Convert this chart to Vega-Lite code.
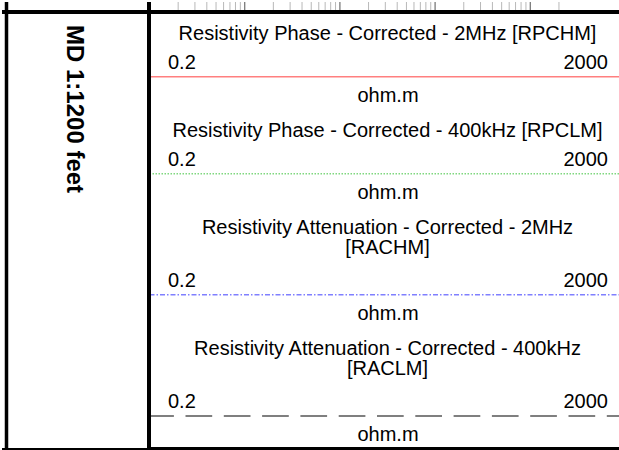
{
  "$schema": "https://vega.github.io/schema/vega-lite/v6.json",
  "padding": 0,
  "background": "#ffffff",
  "spacing": 0,
  "bounds": "flush",
  "config": {
    "view": {"stroke": null},
    "font": "Liberation Sans",
    "title": {"font": "Liberation Sans", "fontSize": 20, "fontWeight": "normal", "color": "#000000", "anchor": "middle", "frame": "group", "baseline": "alphabetic", "offset": 8.5, "lineHeight": 20, "dx": 1.5},
    "axis": {"labelFont": "Liberation Sans", "titleFont": "Liberation Sans"}
  },
  "datasets": {
    "curves": [
      {"curve": "RPCHM", "left": 0.2, "right": 2000, "unit": "ohm.m"},
      {"curve": "RPCLM", "left": 0.2, "right": 2000, "unit": "ohm.m"},
      {"curve": "RACHM", "left": 0.2, "right": 2000, "unit": "ohm.m"},
      {"curve": "RACLM", "left": 0.2, "right": 2000, "unit": "ohm.m"}
    ],
    "grid": [
      {"value": 0.2, "kind": "minor"}, {"value": 0.3, "kind": "minor"}, {"value": 0.4, "kind": "minor"}, {"value": 0.5, "kind": "minor"},
      {"value": 0.6, "kind": "minor"}, {"value": 0.7, "kind": "minor"}, {"value": 0.8, "kind": "minor"}, {"value": 0.9, "kind": "minor"},
      {"value": 1, "kind": "major"},
      {"value": 2, "kind": "minor"}, {"value": 3, "kind": "minor"}, {"value": 4, "kind": "minor"}, {"value": 5, "kind": "minor"},
      {"value": 6, "kind": "minor"}, {"value": 7, "kind": "minor"}, {"value": 8, "kind": "minor"}, {"value": 9, "kind": "minor"},
      {"value": 10, "kind": "major"},
      {"value": 20, "kind": "minor"}, {"value": 30, "kind": "minor"}, {"value": 40, "kind": "minor"}, {"value": 50, "kind": "minor"},
      {"value": 60, "kind": "minor"}, {"value": 70, "kind": "minor"}, {"value": 80, "kind": "minor"}, {"value": 90, "kind": "minor"},
      {"value": 100, "kind": "major"},
      {"value": 200, "kind": "minor"}, {"value": 300, "kind": "minor"}, {"value": 400, "kind": "minor"}, {"value": 500, "kind": "minor"},
      {"value": 600, "kind": "minor"}, {"value": 700, "kind": "minor"}, {"value": 800, "kind": "minor"}, {"value": 900, "kind": "minor"},
      {"value": 1000, "kind": "major"},
      {"value": 2000, "kind": "minor"}
    ]
  },
  "hconcat": [
    {
      "width": 149,
      "height": 450,
      "data": {"values": [{"label": "MD 1:1200 feet"}]},
      "layer": [
        {"mark": {"type": "rule", "color": "#000000", "strokeWidth": 3.5},
         "encoding": {"x": {"datum": 0, "type": "quantitative", "scale": {"domain": [0, 1], "range": [4.5, 147]}, "axis": null}}},
        {"mark": {"type": "rule", "color": "#000000", "strokeWidth": 4},
         "encoding": {"x": {"datum": 1, "type": "quantitative", "axis": null}}},
        {"mark": {"type": "rule", "color": "#000000", "strokeWidth": 4},
         "encoding": {"y": {"datum": 0, "type": "quantitative", "scale": {"domain": [0, 1], "range": [10, 448]}, "axis": null}}},
        {"mark": {"type": "rule", "color": "#000000", "strokeWidth": 4},
         "encoding": {"y": {"datum": 1, "type": "quantitative", "axis": null}}},
        {"mark": {"type": "text", "angle": 90, "align": "left", "baseline": "middle", "font": "Liberation Sans", "fontSize": 24, "fontWeight": "bold", "color": "#000000", "dx": 13, "dy": 3.5},
         "encoding": {"text": {"field": "label"}, "x": {"datum": 0.5, "type": "quantitative"}, "y": {"datum": 0, "type": "quantitative"}}}
      ]
    },
    {
      "spacing": 9.5,
      "vconcat": [
        {
          "width": 470,
          "height": 10,
          "layer": [
            {"data": {"name": "grid"},
             "transform": [{"filter": {"field": "kind", "equal": "minor"}}],
             "mark": {"type": "rule", "clip": true, "color": "#b8b8b8", "strokeWidth": 1},
             "encoding": {"x": {"field": "value", "type": "quantitative", "scale": {"type": "log", "domain": [0.2, 2000], "range": [-1.5, 474.5]}, "axis": null}}},
            {"data": {"name": "grid"},
             "transform": [{"filter": {"field": "kind", "equal": "major"}}],
             "mark": {"type": "rule", "clip": true, "color": "#7a7a7a", "strokeWidth": 1.3},
             "encoding": {"x": {"field": "value", "type": "quantitative", "axis": null}}},
            {"data": {"values": [{}]},
             "mark": {"type": "rule", "color": "#000000", "strokeWidth": 4},
             "encoding": {"y": {"datum": 0, "type": "quantitative", "scale": {"domain": [0, 1]}, "axis": null}}}
          ]
        },
        {
          "spacing": 15,
          "vconcat": [
            {
              "width": 470, "height": 1,
              "title": {"text": "Resistivity Phase - Corrected - 2MHz [RPCHM]"},
              "data": {"name": "curves"},
              "transform": [{"filter": {"field": "curve", "equal": "RPCHM"}}],
              "mark": {"type": "rule", "clip": true, "strokeWidth": 2},
              "encoding": {
                "x": {"field": "left", "type": "quantitative", "scale": {"type": "log", "domain": [0.2, 2000], "range": [-1.5, 474.5]},
                      "axis": {"orient": "top", "values": [0.2, 2000], "format": "~g", "labelFlush": true, "labelFlushOffset": -18, "ticks": false, "tickSize": 0, "domain": false, "grid": false, "labelFontSize": 20, "labelColor": "#000000", "labelPadding": 4, "title": "ohm.m", "titleFontSize": 20, "titleFontWeight": "normal", "titleColor": "#000000", "titleY": 25, "titleBaseline": "alphabetic", "titlePadding": 0}},
                "x2": {"field": "right"},
                "y": {"datum": 1, "type": "quantitative", "scale": {"domain": [0, 1]}, "axis": null},
                "color": {"field": "curve", "type": "nominal", "scale": {"domain": ["RPCHM", "RPCLM", "RACHM", "RACLM"], "range": ["#ff0000", "#00b000", "#0000ff", "#000000"]}, "legend": null},
                "strokeDash": {"field": "curve", "type": "nominal", "scale": {"domain": ["RPCHM", "RPCLM", "RACHM", "RACLM"], "range": [[1, 0], [1.5, 1.5], [5, 2, 1.5, 2], [26.7, 11.6]]}, "legend": null}
              }
            },
            {
              "width": 470, "height": 1,
              "title": {"text": "Resistivity Phase - Corrected - 400kHz [RPCLM]"},
              "data": {"name": "curves"},
              "transform": [{"filter": {"field": "curve", "equal": "RPCLM"}}],
              "mark": {"type": "rule", "clip": true, "strokeWidth": 1.8},
              "encoding": {
                "x": {"field": "left", "type": "quantitative", "scale": {"type": "log", "domain": [0.2, 2000], "range": [-1.5, 474.5]},
                      "axis": {"orient": "top", "values": [0.2, 2000], "format": "~g", "labelFlush": true, "labelFlushOffset": -18, "ticks": false, "tickSize": 0, "domain": false, "grid": false, "labelFontSize": 20, "labelColor": "#000000", "labelPadding": 4, "title": "ohm.m", "titleFontSize": 20, "titleFontWeight": "normal", "titleColor": "#000000", "titleY": 25, "titleBaseline": "alphabetic", "titlePadding": 0}},
                "x2": {"field": "right"},
                "y": {"datum": 1, "type": "quantitative", "scale": {"domain": [0, 1]}, "axis": null},
                "color": {"field": "curve", "type": "nominal", "scale": {"domain": ["RPCHM", "RPCLM", "RACHM", "RACLM"], "range": ["#ff0000", "#00b000", "#0000ff", "#000000"]}, "legend": null},
                "strokeDash": {"field": "curve", "type": "nominal", "scale": {"domain": ["RPCHM", "RPCLM", "RACHM", "RACLM"], "range": [[1, 0], [1.5, 1.5], [5, 2, 1.5, 2], [26.7, 11.6]]}, "legend": null}
              }
            },
            {
              "width": 470, "height": 1,
              "title": {"text": ["Resistivity Attenuation - Corrected - 2MHz", "[RACHM]"], "offset": 13},
              "data": {"name": "curves"},
              "transform": [{"filter": {"field": "curve", "equal": "RACHM"}}],
              "mark": {"type": "rule", "clip": true, "strokeWidth": 2},
              "encoding": {
                "x": {"field": "left", "type": "quantitative", "scale": {"type": "log", "domain": [0.2, 2000], "range": [-1.5, 474.5]},
                      "axis": {"orient": "top", "values": [0.2, 2000], "format": "~g", "labelFlush": true, "labelFlushOffset": -18, "ticks": false, "tickSize": 0, "domain": false, "grid": false, "labelFontSize": 20, "labelColor": "#000000", "labelPadding": 4, "title": "ohm.m", "titleFontSize": 20, "titleFontWeight": "normal", "titleColor": "#000000", "titleY": 25, "titleBaseline": "alphabetic", "titlePadding": 0}},
                "x2": {"field": "right"},
                "y": {"datum": 1, "type": "quantitative", "scale": {"domain": [0, 1]}, "axis": null},
                "color": {"field": "curve", "type": "nominal", "scale": {"domain": ["RPCHM", "RPCLM", "RACHM", "RACLM"], "range": ["#ff0000", "#00b000", "#0000ff", "#000000"]}, "legend": null},
                "strokeDash": {"field": "curve", "type": "nominal", "scale": {"domain": ["RPCHM", "RPCLM", "RACHM", "RACLM"], "range": [[1, 0], [1.5, 1.5], [5, 2, 1.5, 2], [26.7, 11.6]]}, "legend": null}
              }
            },
            {
              "width": 470, "height": 33.5,
              "title": {"text": ["Resistivity Attenuation - Corrected - 400kHz", "[RACLM]"], "offset": 13},
              "layer": [
                {
                  "data": {"name": "curves"},
                  "transform": [{"filter": {"field": "curve", "equal": "RACLM"}}],
                  "mark": {"type": "rule", "clip": true, "strokeWidth": 1.8, "strokeDashOffset": 2.3},
                  "encoding": {
                    "x": {"field": "left", "type": "quantitative", "scale": {"type": "log", "domain": [0.2, 2000], "range": [-1.5, 474.5]},
                          "axis": {"orient": "top", "values": [0.2, 2000], "format": "~g", "labelFlush": true, "labelFlushOffset": -18, "ticks": false, "tickSize": 0, "domain": false, "grid": false, "labelFontSize": 20, "labelColor": "#000000", "labelPadding": 4, "title": "ohm.m", "titleFontSize": 20, "titleFontWeight": "normal", "titleColor": "#000000", "titleY": 25, "titleBaseline": "alphabetic", "titlePadding": 0}},
                    "x2": {"field": "right"},
                    "y": {"datum": 1, "type": "quantitative", "scale": {"domain": [0, 1]}, "axis": null},
                    "color": {"field": "curve", "type": "nominal", "scale": {"domain": ["RPCHM", "RPCLM", "RACHM", "RACLM"], "range": ["#ff0000", "#00b000", "#0000ff", "#000000"]}, "legend": null},
                    "strokeDash": {"field": "curve", "type": "nominal", "scale": {"domain": ["RPCHM", "RPCLM", "RACHM", "RACLM"], "range": [[1, 0], [1.5, 1.5], [5, 2, 1.5, 2], [26.7, 11.6]]}, "legend": null}
                  }
                },
                {
                  "data": {"values": [{}]},
                  "mark": {"type": "rule", "color": "#000000", "strokeWidth": 4},
                  "encoding": {"y": {"datum": 0, "type": "quantitative", "axis": null}}
                }
              ]
            }
          ]
        }
      ]
    }
  ]
}
